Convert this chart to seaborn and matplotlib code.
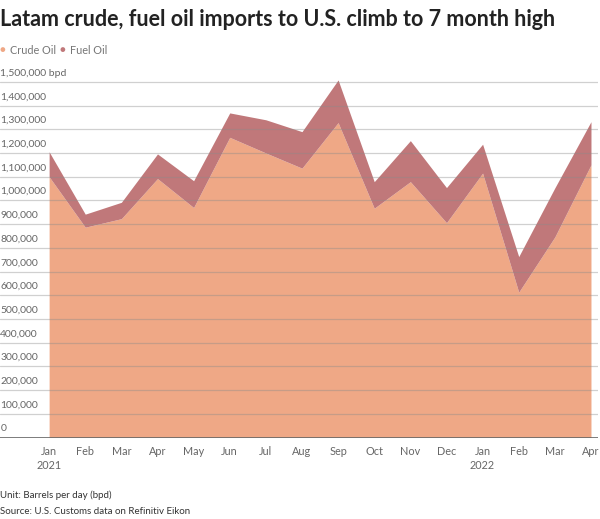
import numpy as np
import pandas as pd
import matplotlib.pyplot as plt
import seaborn as sns

# Monthly imports, Jan 2021 - Apr 2022 (bpd)
months = ["Jan\n2021", "Feb", "Mar", "Apr", "May", "Jun", "Jul", "Aug", "Sep",
          "Oct", "Nov", "Dec", "Jan\n2022", "Feb", "Mar", "Apr"]
crude_oil = [1100000, 887000, 923000, 1092000, 970000, 1266000, 1200000, 1136000,
             1328000, 967000, 1079000, 906000, 1115000, 613000, 846000, 1150000]
total = [1205000, 942000, 992000, 1196000, 1083000, 1369000, 1340000, 1290000,
         1508000, 1079000, 1252000, 1054000, 1237000, 763000, 1053000, 1332000]
fuel_oil = [t - c for t, c in zip(total, crude_oil)]

y_ticks = [0, 100000, 200000, 300000, 400000, 500000, 600000, 700000,
           800000, 900000, 1000000, 1100000, 1200000, 1300000, 1400000, 1500000]

df = pd.DataFrame({"Month": months, "Crude Oil": crude_oil, "Fuel Oil": fuel_oil})
df["x"] = np.arange(len(df))

sns.set_theme(style="white")
plt.rcParams["font.family"] = ["Lato", "DejaVu Sans"]

crude_color = "#efa886"
fuel_color = "#c0787a"

fig = plt.figure(figsize=(6, 5.19), dpi=100)
ax = fig.add_axes([0, 0.157, 0.997, 0.699])

ax.stackplot(df["x"], df["Crude Oil"], df["Fuel Oil"],
             colors=[crude_color, fuel_color], linewidth=0)

ax.set_xlim(-1.36, 15.2)
ax.set_ylim(0, 1530000)

# gridlines drawn over the areas
for v in y_ticks[1:]:
    ax.axhline(v, color="#8a8a8a", alpha=0.4, linewidth=0.9, zorder=3)
ax.axhline(0, color="#666666", linewidth=1.2, zorder=4)

# y labels sit above the gridlines at the left edge
for v in y_ticks:
    label = f"{v:,}" + (" bpd" if v == y_ticks[-1] else "")
    ax.text(-1.35, v + 18000, label, fontsize=7.5, color="#666666",
            ha="left", va="bottom", zorder=5)

ax.set_yticks([])
ax.set_xticks(df["x"])
ax.set_xticklabels(df["Month"], fontsize=7.8, color="#666666", linespacing=1.4)
ax.tick_params(axis="x", length=0, pad=6)
sns.despine(ax=ax, left=True, bottom=True)

fig.text(0.0, 0.962, "Latam crude, fuel oil imports to U.S. climb to 7 month high",
         fontsize=15.5, fontweight="bold", color="#222222", ha="left", va="center")

# legend
fig.text(0.0, 0.903, "\u25CF", fontsize=7, color=crude_color, ha="left", va="center")
fig.text(0.017, 0.903, "Crude Oil", fontsize=7.8, color="#777777", ha="left", va="center")
fig.text(0.1, 0.903, "\u25CF", fontsize=7, color=fuel_color, ha="left", va="center")
fig.text(0.117, 0.903, "Fuel Oil", fontsize=7.8, color="#777777", ha="left", va="center")

fig.text(0.0, 0.046, "Unit: Barrels per day (bpd)", fontsize=7, color="#333333",
         ha="left", va="center")
fig.text(0.0, 0.015, "Source: U.S. Customs data on Refinitiv Eikon", fontsize=7,
         color="#333333", ha="left", va="center")

fig.savefig("out.png", dpi=100)
